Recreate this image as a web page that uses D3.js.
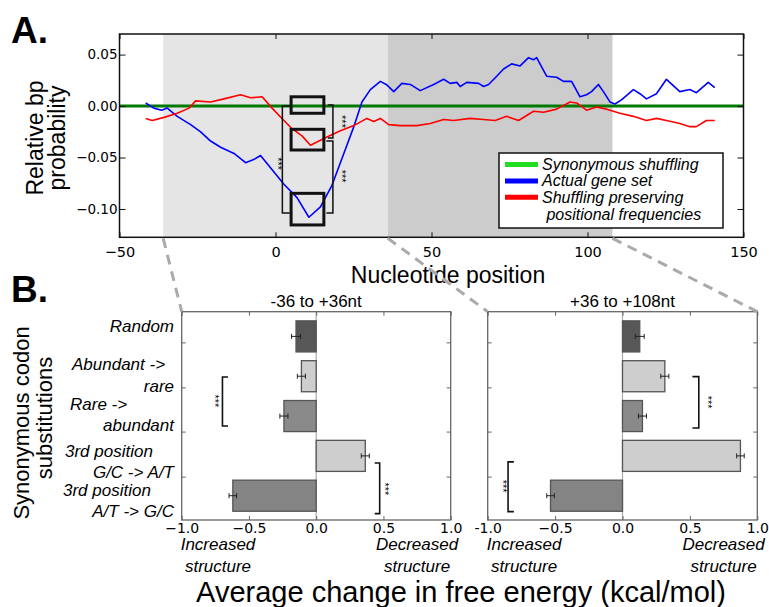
<!DOCTYPE html>
<html>
<head>
<meta charset="utf-8">
<script src="https://cdn.jsdelivr.net/npm/d3@7"></script>
<style>
body { margin: 0; background: #fff; }
svg text { font-family: "Liberation Sans", Arial, Helvetica, sans-serif; fill: #000; }
.num text { font-family: "DejaVu Sans", sans-serif; }
</style>
</head>
<body>
<div id="fig"></div>
<script>
// ---- A: relative bp probability along the coding sequence ----
const actualPos = [-41.6, -39, -36.5, -34.7, -31.5, -27.2, -24, -20.8, -17.6, -13.3, -9.6, -7, -4.8, -1.6, 2.7, 6.9, 10.7, 14.4, 18.1, 21.9, 25.1, 27.7, 30.4, 33.6, 35.5, 37.9, 40.5, 43.2, 46.4, 50.7, 53.9, 56, 58.1, 59.2, 61.3, 65.1, 66.7, 68.3, 70.9, 73.1, 75.7, 78.4, 81.1, 82.7, 83.7, 86.9, 90.1, 92.3, 94.9, 97.6, 99.7, 101.3, 103.5, 105.1, 107.2, 108.8, 110.9, 114.7, 116.8, 118.9, 122.1, 125.3, 129.6, 132.8, 134.9, 138.7, 140.8];
const actualVal = [0.003, -0.002, -0.004, -0.002, -0.010, -0.018, -0.025, -0.034, -0.040, -0.046, -0.055, -0.052, -0.048, -0.060, -0.076, -0.089, -0.108, -0.098, -0.077, -0.046, -0.020, 0.004, 0.016, 0.024, 0.021, 0.014, 0.022, 0.021, 0.015, 0.021, 0.026, 0.022, 0.023, 0.019, 0.023, 0.022, 0.019, 0.021, 0.029, 0.036, 0.041, 0.039, 0.047, 0.045, 0.047, 0.029, 0.028, 0.024, 0.024, 0.009, 0.011, 0.014, 0.021, 0.014, 0.004, 0.002, 0.006, 0.016, 0.012, 0.007, 0.012, 0.026, 0.014, 0.016, 0.013, 0.023, 0.018];
const positionalPos = [-41.6, -39.5, -35.7, -31.5, -27.7, -25.6, -20.8, -16.5, -11.2, -8, -4.3, -1.1, 2.7, 5.3, 8.5, 11.2, 13.3, 16.5, 20.8, 25.1, 29.3, 31.5, 33.6, 36.3, 40, 45.3, 49.6, 53.9, 57.1, 62.4, 66.7, 70.4, 74.1, 77.9, 82.7, 85.9, 90.1, 94.4, 96.5, 99.7, 102.9, 106.1, 110.4, 114.7, 118.9, 122.1, 125.3, 129.6, 132.8, 134.9, 138.1, 140.8];
const positionalVal = [-0.012, -0.014, -0.011, -0.007, -0.002, 0.005, 0.004, 0.007, 0.011, 0.008, 0.009, -0.002, -0.014, -0.022, -0.029, -0.038, -0.035, -0.030, -0.024, -0.019, -0.012, -0.015, -0.012, -0.018, -0.019, -0.019, -0.017, -0.013, -0.014, -0.012, -0.013, -0.014, -0.010, -0.014, -0.005, -0.006, -0.003, 0.004, 0.003, -0.004, -0.001, -0.003, -0.007, -0.010, -0.014, -0.012, -0.014, -0.017, -0.020, -0.020, -0.014, -0.014];
const synonymousPos = [-50, 150];
const synonymousVal = [0, 0];
const windowStart = [-36, 36];
const windowEnd = [36, 108];
const xTicksA = [-50, 0, 50, 100, 150];
const xTickLabelsA = ["−50", "0", "50", "100", "150"];
const yTicksA = [0.05, 0, -0.05, -0.1];
const yTickLabelsA = ["0.05", "0.00", "−0.05", "−0.10"];
const legendLabels = [["Synonymous shuffling"], ["Actual gene set"], ["Shuffling preserving", " positional frequencies"]];

// ---- B: mean change in folding free energy per substitution type ----
const substitutions = [["Random"], ["Abundant ->", "rare"], ["Rare ->", "abundant"], ["3rd position", "G/C -> A/T"], ["3rd position", "A/T -> G/C"]];
const earlyDelta = [-0.15, -0.11, -0.24, 0.365, -0.62];
const earlyErr = [0.033, 0.03, 0.03, 0.03, 0.028];
const lateDelta = [0.128, 0.314, 0.148, 0.875, -0.534];
const lateErr = [0.033, 0.03, 0.03, 0.028, 0.028];
const xTicksB = [-1, -0.5, 0, 0.5, 1];
const xTickLabelsEarly = ["−1.0", "−0.5", "0.0", "0.5", "1.0"];
const xTickLabelsLate = ["-1.0", "−0.5", "0.0", "0.5", "1.0"];

const barFill = ["#575757", "#cecece", "#8a8a8a", "#cecece", "#848484"];

const svg = d3.select("#fig").append("svg")
  .attr("width", 769)
  .attr("height", 607);

// ================= panel A =================
const A = {left: 119.5, right: 743.5, top: 34, bottom: 237.3};
const xA = d3.scaleLinear().domain([-50, 150]).range([A.left, A.right]);
const yA = d3.scaleLinear().domain([-0.1275, 0.07]).range([A.bottom, A.top]);

const gA = svg.append("g");

// the two analysis windows
gA.selectAll("rect.window")
  .data(windowStart)
  .join("rect")
  .attr("x", d => xA(d))
  .attr("width", (d, i) => xA(windowEnd[i]) - xA(d))
  .attr("y", A.top)
  .attr("height", A.bottom - A.top)
  .attr("fill", (d, i) => i === 0 ? "#e5e5e5" : "#cccccc");

const lineA = d3.line().x(d => xA(d[0])).y(d => yA(d[1]));

gA.append("path")
  .datum(synonymousPos.map((p, i) => [p, synonymousVal[i]]))
  .attr("fill", "none").attr("stroke", "#007a00").attr("stroke-width", 3)
  .attr("d", lineA);
gA.append("path")
  .datum(actualPos.map((p, i) => [p, actualVal[i]]))
  .attr("fill", "none").attr("stroke", "#0000ff").attr("stroke-width", 1.6)
  .attr("stroke-linejoin", "round")
  .attr("d", lineA);
gA.append("path")
  .datum(positionalPos.map((p, i) => [p, positionalVal[i]]))
  .attr("fill", "none").attr("stroke", "#ff0000").attr("stroke-width", 1.6)
  .attr("stroke-linejoin", "round")
  .attr("d", lineA);

// boxes around the compared minima
const boxes = [
  {x0: 5, x1: 15.5, y0: 0.009, y1: -0.007},
  {x0: 5, x1: 15.5, y0: -0.0226, y1: -0.0427},
  {x0: 5, x1: 15.5, y0: -0.0848, y1: -0.1155}
];
gA.selectAll("rect.box")
  .data(boxes)
  .join("rect")
  .attr("x", d => xA(d.x0)).attr("width", d => xA(d.x1) - xA(d.x0))
  .attr("y", d => yA(d.y0)).attr("height", d => yA(d.y1) - yA(d.y0))
  .attr("fill", "none").attr("stroke", "#111").attr("stroke-width", 3);

// significance brackets
const bracketsA = [
  {x: 2.2, tip: 4.6, top: 0, bottom: -0.104, sx: 0.6, sy: -0.056},
  {x: 18.4, tip: 16.8, top: 0.001, bottom: -0.031, sx: 21.4, sy: -0.015},
  {x: 18.4, tip: 16.3, top: -0.034, bottom: -0.104, sx: 21.2, sy: -0.068}
];
const bracketPath = (x, tip, y0, y1) => `M${tip},${y0}H${x}V${y1}H${tip}`;
gA.selectAll("path.br")
  .data(bracketsA)
  .join("path")
  .attr("d", d => bracketPath(xA(d.x), xA(d.tip), yA(d.top), yA(d.bottom)))
  .attr("fill", "none").attr("stroke", "#111").attr("stroke-width", 1.5);
gA.selectAll("text.star")
  .data(bracketsA)
  .join("text")
  .attr("transform", d => `translate(${xA(d.sx)},${yA(d.sy)}) rotate(90)`)
  .attr("text-anchor", "middle").attr("dy", "0.35em")
  .attr("font-size", 11)
  .text("***");

// frame and ticks
gA.append("rect")
  .attr("x", A.left).attr("y", A.top)
  .attr("width", A.right - A.left).attr("height", A.bottom - A.top)
  .attr("fill", "none").attr("stroke", "#111").attr("stroke-width", 1.5);

const styleAxis = (g, size) => {
  g.select(".domain").remove();
  g.selectAll(".tick line").attr("stroke", "#111");
  g.selectAll("text").attr("font-size", size).attr("fill", "#000");
};
gA.append("g").attr("class", "num")
  .attr("transform", `translate(0,${A.bottom})`)
  .call(d3.axisBottom(xA).tickValues(xTicksA).tickFormat((d, i) => xTickLabelsA[i])
    .tickSizeInner(-5).tickSizeOuter(0).tickPadding(9))
  .call(g => styleAxis(g, 14.5));
gA.append("g")
  .attr("transform", `translate(0,${A.top})`)
  .call(d3.axisTop(xA).tickValues(xTicksA).tickFormat("").tickSizeInner(-5).tickSizeOuter(0))
  .call(g => styleAxis(g, 0));
gA.append("g").attr("class", "num")
  .attr("transform", `translate(${A.left},0)`)
  .call(d3.axisLeft(yA).tickValues(yTicksA).tickFormat((d, i) => yTickLabelsA[i])
    .tickSizeInner(-6).tickSizeOuter(0).tickPadding(2))
  .call(g => styleAxis(g, 13.5));
gA.append("g")
  .attr("transform", `translate(${A.right},0)`)
  .call(d3.axisRight(yA).tickValues(yTicksA).tickFormat("").tickSizeInner(-6).tickSizeOuter(0))
  .call(g => styleAxis(g, 0));

// legend
const legend = gA.append("g");
legend.append("rect")
  .attr("x", 499).attr("y", 153).attr("width", 224).attr("height", 75)
  .attr("fill", "#fff").attr("stroke", "#111").attr("stroke-width", 1.5);
const legendColors = ["#22dd22", "#0000ff", "#ff0000"];
legendLabels.forEach((lines, i) => {
  const cy = 164.5 + i * 16.4;
  legend.append("line")
    .attr("x1", 505).attr("x2", 538).attr("y1", cy).attr("y2", cy)
    .attr("stroke", legendColors[i]).attr("stroke-width", 5);
  lines.forEach((t, j) => {
    legend.append("text")
      .attr("x", 542).attr("y", cy + 5.5 + j * 16.8)
      .attr("font-size", 16).attr("font-style", "italic")
      .attr("xml:space", "preserve")
      .text(t);
  });
});

svg.append("text").attr("x", 448).attr("y", 283)
  .attr("text-anchor", "middle").attr("font-size", 23)
  .text("Nucleotide position");
svg.append("text")
  .attr("transform", "translate(43,138) rotate(-90)")
  .attr("text-anchor", "middle").attr("font-size", 23)
  .text("Relative bp");
svg.append("text")
  .attr("transform", "translate(65,138) rotate(-90)")
  .attr("text-anchor", "middle").attr("font-size", 23)
  .text("probability");
svg.append("text").attr("x", 11).attr("y", 43)
  .attr("font-size", 37).attr("font-weight", "bold").text("A.");
svg.append("text").attr("x", 11).attr("y", 302)
  .attr("font-size", 37).attr("font-weight", "bold").text("B.");

// ================= panel B =================
const B = {top: 311.7, bottom: 520};
const yB = d3.scaleLinear().domain([-0.62, 4.61]).range([B.top, B.bottom]);
const yTicksB = [0.15, 1.28, 2.39, 3.52];
const barHalf = 0.39;

function barPanel(x0, x1, values, errs, tickLabels, title) {
  const x = d3.scaleLinear().domain([-1, 1]).range([x0, x1]);
  const g = svg.append("g");

  g.append("line")
    .attr("x1", x(0)).attr("x2", x(0)).attr("y1", B.top).attr("y2", B.bottom)
    .attr("stroke", "#aaa").attr("stroke-width", 1.2);

  g.selectAll("rect.bar")
    .data(values)
    .join("rect")
    .attr("x", d => x(Math.min(0, d)))
    .attr("width", d => Math.abs(x(d) - x(0)))
    .attr("y", (d, i) => yB(i - barHalf))
    .attr("height", yB(barHalf) - yB(-barHalf))
    .attr("fill", (d, i) => barFill[i])
    .attr("stroke", "#555").attr("stroke-width", 1.3);

  // error bars
  const eb = g.selectAll("g.err")
    .data(values)
    .join("g")
    .attr("stroke", "#222").attr("stroke-width", 1);
  eb.append("line")
    .attr("x1", (d, i) => x(d - errs[i])).attr("x2", (d, i) => x(d + errs[i]))
    .attr("y1", (d, i) => yB(i)).attr("y2", (d, i) => yB(i));
  eb.append("line")
    .attr("x1", (d, i) => x(d - errs[i])).attr("x2", (d, i) => x(d - errs[i]))
    .attr("y1", (d, i) => yB(i) - 2.5).attr("y2", (d, i) => yB(i) + 2.5);
  eb.append("line")
    .attr("x1", (d, i) => x(d + errs[i])).attr("x2", (d, i) => x(d + errs[i]))
    .attr("y1", (d, i) => yB(i) - 2.5).attr("y2", (d, i) => yB(i) + 2.5);

  g.append("rect")
    .attr("x", x0).attr("y", B.top).attr("width", x1 - x0).attr("height", B.bottom - B.top)
    .attr("fill", "none").attr("stroke", "#666").attr("stroke-width", 1.3);

  const styleB = (a, size) => {
    a.select(".domain").remove();
    a.selectAll(".tick line").attr("stroke", "#666");
    a.selectAll("text").attr("font-size", size).attr("fill", "#000");
  };
  g.append("g").attr("class", "num")
    .attr("transform", `translate(0,${B.bottom})`)
    .call(d3.axisBottom(x).tickValues(xTicksB).tickFormat((d, i) => tickLabels[i])
      .tickSizeInner(-4).tickSizeOuter(0).tickPadding(3))
    .call(a => styleB(a, 14));
  g.append("g")
    .attr("transform", `translate(0,${B.top})`)
    .call(d3.axisTop(x).tickValues(xTicksB).tickFormat("").tickSizeInner(-4).tickSizeOuter(0))
    .call(a => styleB(a, 0));
  g.append("g")
    .attr("transform", `translate(${x0},0)`)
    .call(d3.axisLeft(yB).tickValues(yTicksB).tickFormat("").tickSizeInner(-4).tickSizeOuter(0))
    .call(a => styleB(a, 0));
  g.append("g")
    .attr("transform", `translate(${x1},0)`)
    .call(d3.axisRight(yB).tickValues(yTicksB).tickFormat("").tickSizeInner(-4).tickSizeOuter(0))
    .call(a => styleB(a, 0));

  g.append("text").attr("x", x(0)).attr("y", 306.5)
    .attr("text-anchor", "middle").attr("font-size", 17).text(title);

  [["Increased", "structure", -0.73], ["Decreased", "structure", 0.75]].forEach(([a, b, v]) => {
    g.append("text").attr("x", x(v)).attr("y", 550)
      .attr("text-anchor", "middle").attr("font-size", 17).attr("font-style", "italic").text(a);
    g.append("text").attr("x", x(v)).attr("y", 571.5)
      .attr("text-anchor", "middle").attr("font-size", 17).attr("font-style", "italic").text(b);
  });
  return {g, x};
}

const early = barPanel(181.7, 450.7, earlyDelta, earlyErr, xTickLabelsEarly, "-36 to +36nt");
const late = barPanel(487.7, 757.3, lateDelta, lateErr, xTickLabelsLate, "+36 to +108nt");

// significance brackets in B
const bracketsB = [
  {p: early, x: -0.697, tip: -0.656, top: 1.02, bottom: 2.25, sx: -0.755, sy: 1.62},
  {p: early, x: 0.472, tip: 0.435, top: 3.18, bottom: 4.45, sx: 0.509, sy: 3.83},
  {p: late, x: 0.566, tip: 0.519, top: 1.01, bottom: 2.3, sx: 0.633, sy: 1.65},
  {p: late, x: -0.849, tip: -0.806, top: 3.15, bottom: 4.4, sx: -0.885, sy: 3.76}
];
bracketsB.forEach(b => {
  const x = b.p.x;
  svg.append("path")
    .attr("d", bracketPath(x(b.x), x(b.tip), yB(b.top), yB(b.bottom)))
    .attr("fill", "none").attr("stroke", "#111").attr("stroke-width", 1.6);
  svg.append("text")
    .attr("transform", `translate(${x(b.sx)},${yB(b.sy)}) rotate(90)`)
    .attr("text-anchor", "middle").attr("dy", "0.35em")
    .attr("font-size", 11).text("***");
});

// category labels (left of the first panel)
const labelLineY = [[-0.25], [0.70, 1.24], [1.70, 2.22], [2.87, 3.40], [3.87, 4.39]];
const firstLineX = [null, 72, 70, 65, 63];
substitutions.forEach((lines, i) => {
  lines.forEach((t, j) => {
    const single = lines.length === 1;
    const head = !single && j === 0;
    svg.append("text")
      .attr("x", head ? firstLineX[i] : 174)
      .attr("y", yB(labelLineY[i][j]))
      .attr("dy", "0.35em")
      .attr("text-anchor", head ? "start" : "end")
      .attr("font-size", 17).attr("font-style", "italic")
      .text(t);
  });
});

svg.append("text")
  .attr("transform", "translate(29,423) rotate(-90)")
  .attr("text-anchor", "middle").attr("font-size", 22)
  .text("Synonymous codon");
svg.append("text")
  .attr("transform", "translate(51.5,418) rotate(-90)")
  .attr("text-anchor", "middle").attr("font-size", 22)
  .text("substitutions");

svg.append("text").attr("x", 461).attr("y", 601.5)
  .attr("text-anchor", "middle").attr("font-size", 29)
  .text("Average change in free energy (kcal/mol)");

// dashed connectors from the windows to the zoomed panels
const connectors = [
  [xA(windowStart[0]), early.x(-1)],
  [xA(windowEnd[0]), late.x(-1)],
  [xA(windowEnd[1]), late.x(1)]
];
svg.selectAll("line.link")
  .data(connectors)
  .join("line")
  .attr("x1", d => d[0]).attr("y1", A.bottom + 1)
  .attr("x2", d => d[1]).attr("y2", B.top)
  .attr("stroke", "#aaaaaa").attr("stroke-width", 3)
  .attr("stroke-dasharray", "10,7");
</script>
</body>
</html>
